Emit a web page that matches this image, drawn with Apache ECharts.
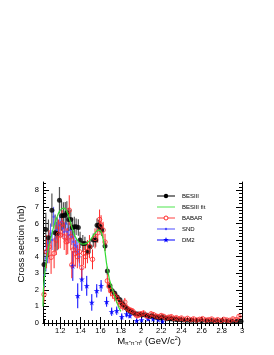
<!DOCTYPE html>
<html>
<head>
<meta charset="utf-8">
<script src="https://cdn.jsdelivr.net/npm/echarts@6/dist/echarts.min.js"></script>
<style>html,body{margin:0;padding:0;background:#fff;}#c{width:274px;height:355px;}</style>
</head>
<body>
<div id="c"></div>
<script>
// ---------- data ----------
var besX = [1.040,1.058,1.084,1.118,1.150,1.170,1.193,1.213,1.232,1.250,1.266,1.285,1.305,1.321,1.340,1.358,1.380,1.397,1.424,1.445,1.470,1.496,1.528,1.552,1.565,1.580,1.595,1.611,1.644,1.667,1.693,1.715,1.740,1.765,1.792,1.810,1.825,1.850,1.870,1.890,1.915,1.940,1.965,1.990,2.010,2.040,2.060,2.090,2.110,2.140,2.160,2.190,2.210,2.240,2.260,2.290,2.310,2.340,2.360,2.390,2.420,2.460,2.500,2.550,2.600,2.650,2.700,2.750,2.800,2.850,2.900,2.950,2.990];
var besY = [3.52,5.64,5.14,6.80,5.44,5.38,7.40,6.46,6.48,6.50,6.64,6.24,6.24,5.74,5.80,5.80,5.76,5.00,4.80,4.80,4.28,4.60,5.00,5.00,5.90,5.88,5.80,5.60,4.64,3.14,2.24,1.94,1.80,1.56,1.40,1.20,1.08,0.92,0.80,0.72,0.64,0.58,0.54,0.52,0.48,0.50,0.46,0.40,0.44,0.36,0.34,0.32,0.36,0.30,0.26,0.26,0.24,0.22,0.20,0.20,0.18,0.17,0.16,0.15,0.14,0.14,0.13,0.12,0.12,0.11,0.11,0.10,0.10];
var besE = [0.9,1.0,1.1,1.0,1.1,1.0,0.8,0.9,0.8,0.8,0.7,0.7,0.6,0.6,0.6,0.5,0.5,0.5,0.5,0.4,0.4,0.4,0.4,0.4,0.4,0.35,0.35,0.35,0.3,0.25,0.2,0.2,0.15,0.15,0.15,0.12,0.12,0.1,0.1,0.1,0.1,0.1,0.1,0.1,0.08,0.08,0.08,0.08,0.08,0.07,0.07,0.07,0.07,0.07,0.06,0.06,0.06,0.06,0.06,0.05,0.05,0.05,0.05,0.05,0.05,0.05,0.05,0.05,0.05,0.05,0.05,0.05,0.05];

var fitX = [1.030,1.035,1.050,1.068,1.090,1.118,1.140,1.167,1.190,1.215,1.239,1.260,1.280,1.300,1.320,1.350,1.380,1.410,1.430,1.460,1.490,1.520,1.550,1.578,1.600,1.620,1.640,1.660,1.685,1.710,1.735,1.760,1.780,1.800];
var fitY = [1.00,2.10,3.10,3.96,4.70,5.36,5.90,6.36,6.70,6.88,6.92,6.80,6.50,6.10,5.70,5.20,4.90,4.78,4.76,4.80,4.95,5.20,5.45,5.60,5.55,5.20,4.50,3.56,2.70,2.16,1.70,1.26,0.95,0.70];

var babX = [1.040,1.065,1.090,1.110,1.140,1.160,1.183,1.200,1.220,1.240,1.260,1.275,1.290,1.305,1.315,1.330,1.350,1.370,1.390,1.414,1.430,1.450,1.470,1.490,1.520,1.545,1.572,1.590,1.605,1.625,1.644,1.667,1.685,1.700,1.720,1.740,1.760,1.780,1.800,1.820,1.840,1.860,1.880,1.900,1.920,1.940,1.960,1.980,2.000,2.025,2.050,2.075,2.100,2.125,2.150,2.175,2.200,2.225,2.250,2.275,2.300,2.325,2.350,2.375,2.400,2.430,2.460,2.490,2.520,2.550,2.580,2.610,2.640,2.670,2.700,2.730,2.760,2.790,2.820,2.850,2.880,2.910,2.940,2.970];
var babY = [1.72,4.30,4.60,3.96,4.20,5.00,5.34,5.30,6.00,5.20,4.90,4.94,6.80,5.20,3.50,4.40,4.20,4.00,4.30,3.34,4.20,4.00,4.30,4.60,3.84,5.10,5.44,6.24,5.90,5.60,4.88,2.54,2.20,1.96,1.76,1.60,1.50,1.30,1.10,1.00,1.26,0.90,0.80,0.75,0.70,0.55,0.45,0.50,0.55,0.60,0.45,0.40,0.55,0.50,0.42,0.38,0.45,0.40,0.30,0.35,0.38,0.28,0.32,0.25,0.30,0.22,0.28,0.20,0.25,0.18,0.22,0.26,0.18,0.20,0.24,0.16,0.20,0.15,0.22,0.18,0.16,0.25,0.20,0.40];
var babE = [0.5,1.0,1.0,1.0,0.9,0.9,0.9,0.8,0.8,0.8,0.8,0.8,0.9,0.8,0.8,0.8,0.8,0.7,0.7,0.7,0.7,0.7,0.7,0.7,0.6,0.6,0.6,0.6,0.6,0.5,0.5,0.4,0.4,0.35,0.3,0.3,0.3,0.3,0.25,0.25,0.25,0.25,0.2,0.2,0.2,0.2,0.2,0.2,0.15,0.15,0.15,0.15,0.15,0.15,0.12,0.12,0.12,0.12,0.12,0.12,0.12,0.1,0.1,0.1,0.1,0.1,0.1,0.1,0.1,0.1,0.1,0.1,0.1,0.1,0.1,0.1,0.1,0.1,0.1,0.1,0.1,0.1,0.1,0.15];

var sndX = [1.045,1.060,1.075,1.090,1.105,1.120,1.135,1.150,1.165,1.180,1.195,1.210,1.225,1.240,1.255,1.270,1.285,1.300,1.315,1.330,1.345,1.360,1.375,1.390];
var sndY = [2.90,3.90,4.30,4.80,5.40,5.00,6.40,5.10,5.60,5.30,5.90,6.10,5.70,5.50,6.00,5.50,5.30,5.60,5.20,4.90,4.70,4.60,4.30,4.00];
var sndE = [0.8,0.8,0.7,0.6,0.6,0.6,0.6,0.5,0.5,0.5,0.5,0.5,0.5,0.5,0.5,0.5,0.5,0.5,0.5,0.5,0.5,0.5,0.6,0.6];

var dm2X = [1.325,1.374,1.414,1.463,1.513,1.562,1.605,1.660,1.710,1.760,1.810,1.858,1.890,1.957,2.006,2.070,2.120,2.170,2.213];
var dm2Y = [3.44,1.64,2.64,2.24,1.24,1.94,2.24,1.28,0.68,0.74,0.38,0.54,0.44,0.14,0.18,0.24,0.24,0.20,0.10];
var dm2E = [0.9,0.75,0.7,0.6,0.5,0.4,0.35,0.3,0.25,0.25,0.2,0.2,0.15,0.1,0.1,0.1,0.1,0.1,0.1];

var xTickLabels = [1.2,1.4,1.6,1.8,2.0,2.2,2.4,2.6,2.8,3.0];
var yTickLabels = [0,1,2,3,4,5,6,7,8];
var legendNames = ['BESIII','BESIII fit','BABAR','SND','DM2'];
var xTitle = 'M';
var yTitle = 'Cross section (nb)';

// ---------- build ----------
function zip3(a,b,c){var r=[];for(var i=0;i<a.length;i++){r.push(c?[a[i],b[i],c[i]]:[a[i],b[i]]);}return r;}
function minor(lo,hi,step,majors){var r=[];var n=Math.round((hi-lo)/step);for(var i=0;i<=n;i++){var v=+(lo+i*step).toFixed(4);var isMaj=majors.some(function(m){return Math.abs(m-v)<1e-6;});if(!isMaj&&v>=1.03-1e-9)r.push(v);}return r;}
var X0=1.03,X1=3.0,Y0=0,Y1=8.5;
var xMinor = minor(1.04,3.0,0.04,xTickLabels);
var yMinor = (function(){var r=[];for(var i=1;i<=42;i++){var v=+(i*0.2).toFixed(2);if(Math.abs(v-Math.round(v))>1e-6)r.push(v);}return r;})();

var FONT='Liberation Sans';
function errItem(color,lw){
  return function(params,api){
    var x=api.value(0),y=api.value(1),e=api.value(2);
    var p1=api.coord([x,y-e]),p2=api.coord([x,y+e]);
    return {type:'line',shape:{x1:p1[0],y1:p1[1],x2:p2[0],y2:p2[1]},style:{stroke:color,lineWidth:lw}};
  };
}
function xa(pos,vals,len,lbl,line){
  return {type:'value',min:X0,max:X1,position:pos,offset:0,
    axisLine:{show:line,lineStyle:{color:'#000',width:1}},
    axisTick:{show:true,inside:true,length:len,customValues:vals,lineStyle:{color:'#000',width:1}},
    axisLabel:{show:lbl,customValues:vals,fontSize:7.5,color:'#000',margin:4,fontFamily:FONT},
    splitLine:{show:false}};
}
function ya(pos,vals,len,lbl,line){
  return {type:'value',min:Y0,max:Y1,position:pos,offset:0,
    axisLine:{show:line,lineStyle:{color:'#000',width:1}},
    axisTick:{show:true,inside:true,length:len,customValues:vals,lineStyle:{color:'#000',width:1}},
    axisLabel:{show:lbl,customValues:vals,fontSize:7.5,color:'#000',margin:4,fontFamily:FONT},
    splitLine:{show:false}};
}
var star='path://M0,-10 L2.35,-3.24 9.51,-3.09 3.8,1.24 5.88,8.09 0,4 -5.88,8.09 -3.8,1.24 -9.51,-3.09 -2.35,-3.24Z';
var starPts=[[0,-10],[2.35,-3.24],[9.51,-3.09],[3.8,1.24],[5.88,8.09],[0,4],[-5.88,8.09],[-3.8,1.24],[-9.51,-3.09],[-2.35,-3.24]];

var cBes='#000000', cBesErr='#555555', cFit='#33dd33', cBab='#ff2a2a', cSnd='#4a4aff', cDm2='#0000ff';

var legY=[196,207,218,229,240];
var graphics=[];
var legStyles=[
  {line:cBesErr,mk:'fill',mc:cBes},
  {line:'#88ee88',mk:null},
  {line:'#ff8080',mk:'open',mc:cBab},
  {line:'#8888ff',mk:'dot',mc:cSnd},
  {line:'#5555ff',mk:'star',mc:cDm2}
];
legendNames.forEach(function(n,i){
  var s=legStyles[i],y=legY[i];
  graphics.push({type:'line',shape:{x1:157,y1:y,x2:175,y2:y},style:{stroke:s.line,lineWidth:1.5}});
  if(s.mk==='fill')graphics.push({type:'circle',shape:{cx:166,cy:y,r:2.2},style:{fill:s.mc}});
  if(s.mk==='open')graphics.push({type:'circle',shape:{cx:166,cy:y,r:2},style:{fill:'#fff',stroke:s.mc,lineWidth:1}});
  if(s.mk==='dot')graphics.push({type:'circle',shape:{cx:166,cy:y,r:1.2},style:{fill:s.mc}});
  if(s.mk==='star')graphics.push({type:'polygon',shape:{points:starPts.map(function(p){return [166+p[0]*0.3,y+p[1]*0.3];})},style:{fill:s.mc}});
  graphics.push({type:'text',x:182,y:y,style:{text:n,fontSize:6,fontFamily:FONT,fill:'#000',textVerticalAlign:'middle'}});
});
graphics.push({type:'text',x:21,y:244,rotation:Math.PI/2,style:{text:yTitle,fontSize:9.5,fontFamily:FONT,fill:'#000',textAlign:'center',textVerticalAlign:'middle'}});
graphics.push({type:'text',x:149,y:341,style:{
  text:'{m|'+xTitle+'}{s|\u03c0\u207a\u03c0\u207b\u03c0\u2070}{m| (GeV/c}{p|2}{m|)}',
  textAlign:'center',textVerticalAlign:'middle',fill:'#000',
  rich:{m:{fontSize:9.5,fontFamily:FONT,fill:'#000'},s:{fontSize:5.5,fontFamily:FONT,fill:'#000',padding:[5,0,0,0]},p:{fontSize:5.5,fontFamily:FONT,fill:'#000',padding:[0,0,5,0]}}
}});

var chart=echarts.init(document.getElementById('c'),null,{renderer:'canvas'});
chart.setOption({
  animation:false,
  backgroundColor:'#fff',
  grid:{left:43,right:32,top:182,bottom:32,containLabel:false},
  xAxis:[xa('bottom',xTickLabels,6,true,true),xa('bottom',xMinor,3,false,false),xa('top',xTickLabels,6,false,true),xa('top',xMinor,3,false,false)],
  yAxis:[ya('left',yTickLabels,6,true,true),ya('left',yMinor,3,false,false),ya('right',yTickLabels,6,false,true),ya('right',yMinor,3,false,false)],
  graphic:graphics,
  series:[
    {type:'custom',name:'SND err',renderItem:errItem('#5a5aff',1),data:zip3(sndX,sndY,sndE),clip:true,z:2},
    {type:'custom',name:'DM2 err',renderItem:errItem(cDm2,1),data:zip3(dm2X,dm2Y,dm2E),clip:true,z:2},
    {type:'custom',name:'BESIII err',renderItem:errItem(cBesErr,1.2),data:zip3(besX,besY,besE),clip:true,z:3},
    {type:'custom',name:'BABAR err',renderItem:errItem(cBab,1),data:zip3(babX,babY,babE),clip:true,z:3},
    {type:'scatter',name:'SND',symbol:'circle',symbolSize:2.5,itemStyle:{color:cSnd},data:zip3(sndX,sndY),z:4},
    {type:'scatter',name:'DM2',symbol:star,symbolSize:6,itemStyle:{color:cDm2},data:zip3(dm2X,dm2Y),z:4},
    {type:'scatter',name:'BESIII',symbol:'circle',symbolSize:5,itemStyle:{color:cBes},data:zip3(besX,besY),z:5},
    {type:'scatter',name:'BABAR',symbol:'circle',symbolSize:4.5,itemStyle:{color:'rgba(255,255,255,0)',borderColor:cBab,borderWidth:1},data:zip3(babX,babY),z:5},
    {type:'line',name:'BESIII fit',smooth:0.3,symbol:'none',lineStyle:{color:cFit,width:1.2},data:zip3(fitX,fitY),z:6}
  ]
});
</script>
</body>
</html>
